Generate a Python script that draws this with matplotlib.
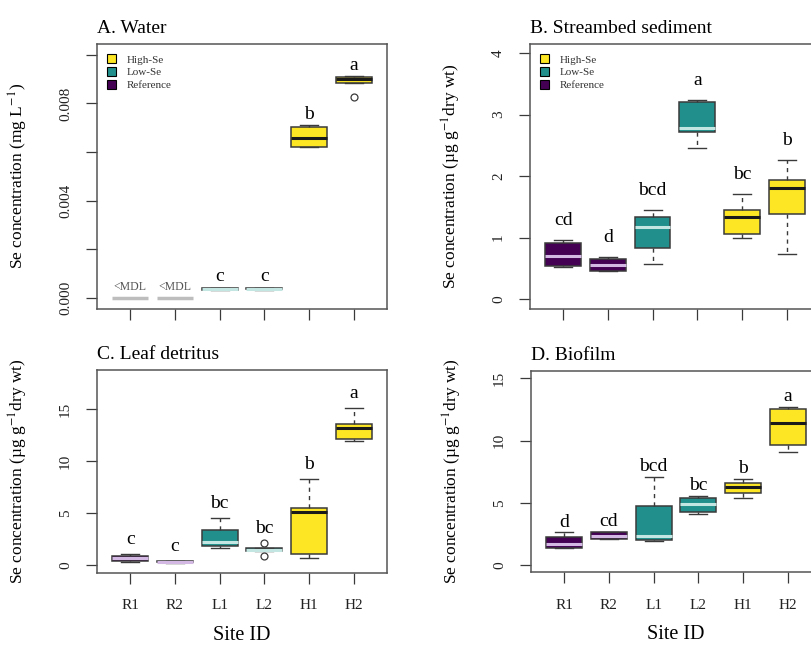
import numpy as np
import matplotlib
matplotlib.use("Agg")
import matplotlib.pyplot as plt
from matplotlib.patches import Patch

plt.rcParams['font.family'] = ['Liberation Serif', 'DejaVu Serif']
plt.rcParams['mathtext.fontset'] = 'stix'

sites = ['R1', 'R2', 'L1', 'L2', 'H1', 'H2']
groups = ['Reference', 'Reference', 'Low-Se', 'Low-Se', 'High-Se', 'High-Se']
group_colors = {'High-Se': '#FDE725', 'Low-Se': '#21908C', 'Reference': '#440154'}
median_colors = {'High-Se': '#1a1a1a', 'Low-Se': '#c4e6e2', 'Reference': '#d3b8e3'}

# A. Water (mg/L); R1, R2 below detection limit
water_mdl = [True, True, False, False, False, False]
water_lo = [0, 0, 0.00032, 0.00034, 0.00620, 0.00885]
water_q1 = [0, 0, 0.00033, 0.00035, 0.00621, 0.00885]
water_med = [0, 0, 0.00036, 0.00037, 0.00658, 0.00900]
water_q3 = [0, 0, 0.00040, 0.00040, 0.00704, 0.00909]
water_hi = [0, 0, 0.00041, 0.00041, 0.00710, 0.00912]
water_fliers = [[], [], [], [], [], [0.00828]]
water_letters = ['', '', 'c', 'c', 'b', 'a']

# B. Streambed sediment (ug/g dry wt)
sed_lo = [0.53, 0.46, 0.57, 2.46, 1.00, 0.73]
sed_q1 = [0.54, 0.46, 0.83, 2.72, 1.06, 1.38]
sed_med = [0.70, 0.56, 1.17, 2.79, 1.33, 1.81]
sed_q3 = [0.91, 0.66, 1.34, 3.21, 1.45, 1.93]
sed_hi = [0.96, 0.68, 1.45, 3.23, 1.71, 2.26]
sed_fliers = [[], [], [], [], [], []]
sed_letters = ['cd', 'd', 'bcd', 'a', 'bc', 'b']

# C. Leaf detritus
leaf_lo = [0.30, 0.22, 1.67, 1.30, 0.64, 11.95]
leaf_q1 = [0.40, 0.25, 1.86, 1.35, 1.03, 12.08]
leaf_med = [0.64, 0.30, 2.24, 1.45, 5.06, 13.20]
leaf_q3 = [0.90, 0.38, 3.37, 1.60, 5.50, 13.56]
leaf_hi = [1.05, 0.40, 4.55, 1.65, 8.27, 15.06]
leaf_fliers = [[], [], [], [2.08, 0.90], [], []]
leaf_letters = ['c', 'c', 'bc', 'bc', 'b', 'a']

# D. Biofilm
bio_lo = [1.34, 2.10, 1.96, 4.11, 5.43, 9.09]
bio_q1 = [1.34, 2.10, 2.02, 4.30, 5.83, 9.68]
bio_med = [1.69, 2.37, 2.37, 4.89, 6.26, 11.40]
bio_q3 = [2.23, 2.63, 4.78, 5.43, 6.64, 12.58]
bio_hi = [2.63, 2.70, 7.12, 5.56, 6.96, 12.70]
bio_fliers = [[], [], [], [], [], []]
bio_letters = ['d', 'cd', 'bcd', 'bc', 'b', 'a']

ylab_water = 'Se concentration (mg L$^{-1}$)'
ylab_solid = 'Se concentration (\u00b5g g$^{-1}$dry wt)'

edge = '#3a3a3a'


def draw_panel(ax, title, lo, q1, med, q3, hi, fliers, letters, pad,
               ylim, yticks, yticklabels, ylabel, mdl=None, legend=False, bottom=False):
    pos = np.arange(1, len(sites) + 1)
    stats = []
    keep = []
    for i in range(len(sites)):
        if mdl is not None and mdl[i]:
            continue
        stats.append(dict(med=med[i], q1=q1[i], q3=q3[i], whislo=lo[i], whishi=hi[i],
                          fliers=fliers[i]))
        keep.append(i)
    bp = ax.bxp(stats, positions=pos[keep], widths=0.8, capwidths=0.4, patch_artist=True,
                boxprops=dict(edgecolor=edge, linewidth=1.1),
                whiskerprops=dict(color=edge, linewidth=1.0, linestyle=(0, (3, 3))),
                capprops=dict(color=edge, linewidth=1.0),
                medianprops=dict(linewidth=2.2),
                flierprops=dict(marker='o', markerfacecolor='none', markeredgecolor=edge,
                                markersize=5, markeredgewidth=0.9))
    for b, m, i in zip(bp['boxes'], bp['medians'], keep):
        b.set_facecolor(group_colors[groups[i]])
        m.set_color(median_colors[groups[i]])

    if mdl is not None:
        for i in range(len(sites)):
            if mdl[i]:
                ax.hlines(0, pos[i] - 0.4, pos[i] + 0.4, color='#bdbdbd', linewidth=2.5)
                ax.text(pos[i], pad, '<MDL', ha='center', va='center', fontsize=8.5,
                        color='#555555')

    for i in range(len(sites)):
        if letters[i]:
            top = max([hi[i]] + list(fliers[i]))
            ax.text(pos[i], top + pad, letters[i], ha='center', va='center', fontsize=14)

    ax.set_xlim(0.26, 6.74)
    ax.set_ylim(*ylim)
    ax.set_yticks(yticks)
    ax.set_yticklabels(yticklabels, rotation=90, va='center')
    ax.set_xticks(pos)
    if bottom:
        ax.set_xticklabels(sites)
        ax.set_xlabel('Site ID', fontsize=14.5, va='center')
        ax.xaxis.set_label_coords(0.5, -0.31)
    else:
        ax.set_xticklabels([])
    ax.tick_params(axis='both', direction='out', length=8, width=0.9, colors=edge,
                   labelcolor='#222222', labelsize=11)
    ax.tick_params(axis='y', pad=10)
    ax.tick_params(axis='x', pad=11)
    for s in ax.spines.values():
        s.set_color('#555555')
        s.set_linewidth(1.1)
    ax.set_ylabel(ylabel, fontsize=12.5)
    ax.yaxis.set_label_coords(-0.23, 0.5)
    ax.set_title(title, loc='left', fontsize=14, pad=8)

    if legend:
        handles = [Patch(facecolor=group_colors[g], edgecolor='black', linewidth=0.8)
                   for g in ['High-Se', 'Low-Se', 'Reference']]
        ax.legend(handles, ['High-Se', 'Low-Se', 'Reference'], loc='upper left',
                  bbox_to_anchor=(0.035, 0.96), borderaxespad=0, borderpad=0,
                  frameon=False, fontsize=8, handlelength=0.8, handleheight=0.8,
                  handletextpad=1.0, labelspacing=0.25, labelcolor='#333333')


fig = plt.figure(figsize=(8.12, 6.45), dpi=100)
axA = fig.add_axes([0.1195, 0.521, 0.357, 0.411])
axB = fig.add_axes([0.6527, 0.521, 0.357, 0.411])
axC = fig.add_axes([0.1195, 0.1116, 0.357, 0.3148])
axD = fig.add_axes([0.6540, 0.1130, 0.357, 0.3118])

draw_panel(axA, 'A. Water', water_lo, water_q1, water_med, water_q3, water_hi, water_fliers,
           water_letters, 0.00046, (-0.00045, 0.01045),
           [0, 0.002, 0.004, 0.006, 0.008, 0.010], ['0.000', '', '0.004', '', '0.008', ''],
           ylab_water, mdl=water_mdl, legend=True)
draw_panel(axB, 'B. Streambed sediment', sed_lo, sed_q1, sed_med, sed_q3, sed_hi, sed_fliers,
           sed_letters, 0.32, (-0.16, 4.15), [0, 1, 2, 3, 4], ['0', '1', '2', '3', '4'],
           ylab_solid, legend=True)
draw_panel(axC, 'C. Leaf detritus', leaf_lo, leaf_q1, leaf_med, leaf_q3, leaf_hi, leaf_fliers,
           leaf_letters, 1.4, (-0.77, 18.75), [0, 5, 10, 15], ['0', '5', '10', '15'],
           ylab_solid, bottom=True)
draw_panel(axD, 'D. Biofilm', bio_lo, bio_q1, bio_med, bio_q3, bio_hi, bio_fliers,
           bio_letters, 0.82, (-0.56, 15.6), [0, 5, 10, 15], ['0', '5', '10', '15'],
           ylab_solid, bottom=True)

fig.savefig('out.png', dpi=100)
